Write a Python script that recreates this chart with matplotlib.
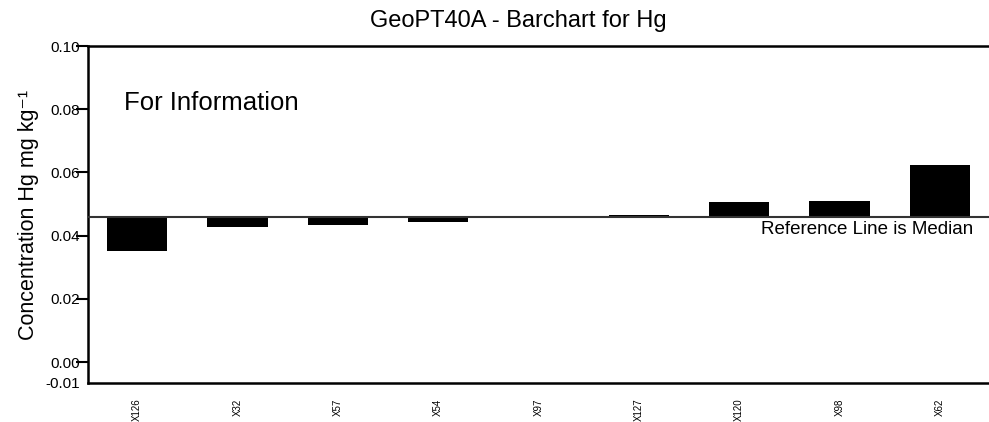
import matplotlib
matplotlib.use("Agg")
import matplotlib.pyplot as plt

plt.rcParams['font.family'] = ['Liberation Sans', 'DejaVu Sans']

# lab codes and reported Hg values (mg/kg)
labs = ["X126", "X32", "X57", "X54", "X97", "X127", "X120", "X98", "X62"]
values = [0.0353, 0.0429, 0.0435, 0.0442, 0.0459, 0.0466, 0.0505, 0.0511, 0.0625]
median = 0.0459

ytick_vals = [0.0, 0.02, 0.04, 0.06, 0.08, 0.10]
ytick_labels = ["0.00", "0.02", "0.04", "0.06", "0.08", "0.10"]
ymin = -0.0066

fig = plt.figure(figsize=(9.89, 4.22), dpi=100)
ax = fig.add_axes([88/989, 1 - 383/422, 1 - 88/989, (383 - 46)/422])

x = list(range(len(labs)))
heights = [v - median for v in values]
ax.bar(x, heights, bottom=median, width=0.6, color="black")
ax.axhline(median, color="#333333", lw=1.5, zorder=3)

ax.set_xlim(-0.49, 8.49)
ax.set_ylim(ymin, 0.10)

ax.set_yticks([ymin] + ytick_vals)
ax.set_yticklabels(["-0.01"] + ytick_labels, fontsize=11)
ax.tick_params(axis="y", length=9, width=1.5, pad=-3)
ax.yaxis.get_major_ticks()[0].tick1line.set_visible(False)

ax.set_xticks(x)
ax.set_xticklabels(labs, rotation=90, fontsize=7)
ax.tick_params(axis="x", length=0, pad=11)

for s in ["top", "bottom", "left"]:
    ax.spines[s].set_linewidth(1.8)
ax.spines["right"].set_visible(False)

ax.set_ylabel("Concentration Hg mg kg\u207b\u00b9", fontsize=15.5, labelpad=4)

ax.text(127/989 - 88/989, 0.082, "For Information", fontsize=18.5,
        transform=ax.get_yaxis_transform(), va="center", ha="left")
ax.text(0.982, median - 0.0012, "Reference Line is Median", fontsize=13.5,
        transform=ax.get_yaxis_transform(), va="top", ha="right")

fig.text(518/989, 1 - 21/422, "GeoPT40A - Barchart for Hg", fontsize=17,
         ha="center", va="center")

fig.savefig("out.png", dpi=100)
